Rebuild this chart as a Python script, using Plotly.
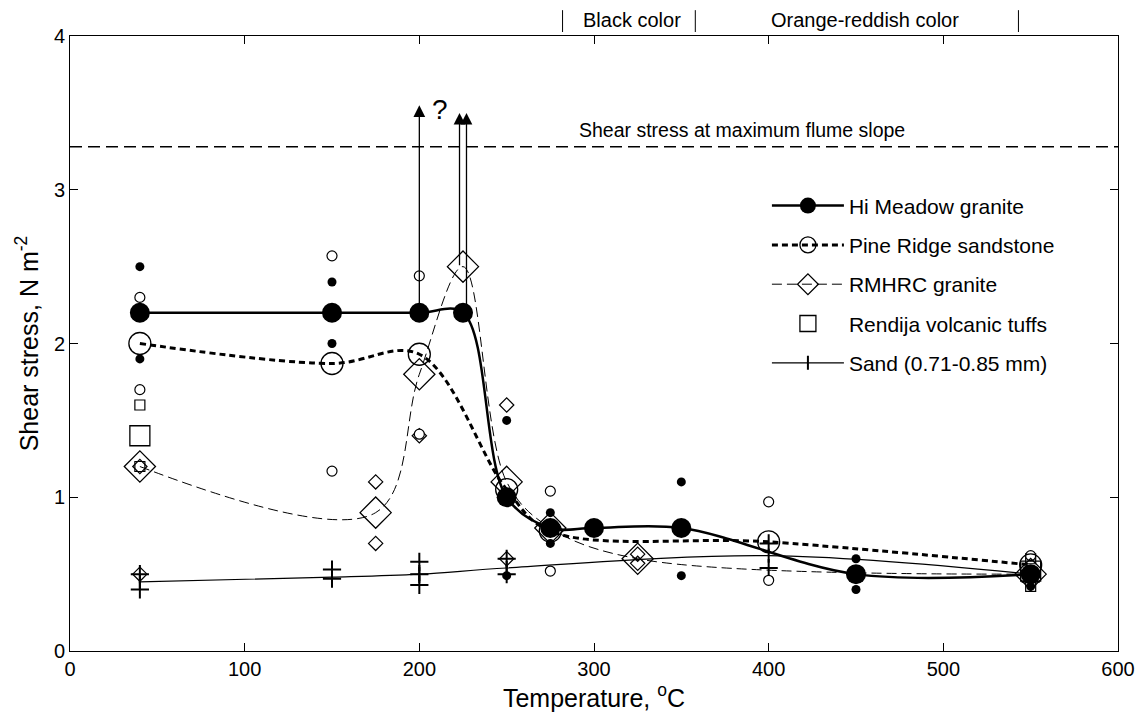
import plotly.graph_objects as go

# ---- data ----
# Hi Meadow granite
hm_x = [40, 150, 200, 225, 250, 275, 300, 350, 450, 550]
hm_y = [2.2, 2.2, 2.2, 2.2, 1.0, 0.8, 0.8, 0.8, 0.5, 0.5]
hm_rep_x = [40, 40, 150, 150, 250, 250, 275, 275, 350, 350, 450, 450, 550]
hm_rep_y = [2.5, 1.9, 2.4, 2.0, 1.5, 0.49, 0.9, 0.7, 1.1, 0.49, 0.6, 0.4, 0.42]

# Pine Ridge sandstone
pr_x = [40, 150, 200, 250, 275, 400, 550]
pr_y = [2.0, 1.87, 1.93, 1.05, 0.78, 0.71, 0.56]
pr_rep_x = [40, 40, 150, 150, 200, 200, 275, 275, 400, 400, 550]
pr_rep_y = [2.3, 1.7, 2.57, 1.17, 2.44, 1.41, 1.04, 0.52, 0.97, 0.46, 0.62]

# RMHRC granite
rm_x = [40, 175, 200, 225, 250, 275, 325, 550]
rm_y = [1.2, 0.9, 1.8, 2.5, 1.1, 0.8, 0.6, 0.5]
rm_rep_x = [40, 40, 175, 175, 200, 250, 250, 325, 325]
rm_rep_y = [1.2, 0.5, 1.1, 0.7, 1.4, 1.6, 0.6, 0.63, 0.57]

# Rendija volcanic tuffs
rv_x = [40, 550]
rv_y = [1.4, 0.52]
rv_rep_x = [40, 40, 550, 550]
rv_rep_y = [1.6, 1.2, 0.6, 0.42]

# Sand (0.71-0.85 mm)
sd_x = [40, 150, 200, 250, 400, 550]
sd_y = [0.45, 0.48, 0.5, 0.54, 0.62, 0.5]
sd_rep_x = [40, 40, 150, 150, 200, 200, 200, 250, 250, 400, 400, 550]
sd_rep_y = [0.5, 0.4, 0.53, 0.47, 0.58, 0.5, 0.43, 0.6, 0.5, 0.7, 0.54, 0.45]

flume_stress = 3.28

# off-scale arrows: (x, start y, end y)
arrows_x = [200, 223, 227]
arrows_y0 = [2.2, 2.5, 2.2]
arrows_y1 = [3.55, 3.5, 3.5]

# colour zones along the top
zone_bars = [282, 358, 543]
zone_labels = ["Black color", "Orange-reddish color"]
zone_label_x = [322, 455]

FONT = "Liberation Sans, Arial, Helvetica, sans-serif"
fig = go.Figure()

# replicate (small) markers, not in legend
fig.add_trace(go.Scatter(x=sd_rep_x, y=sd_rep_y, mode="markers", showlegend=False,
                         marker=dict(symbol="cross-thin", size=13, color="black",
                                     line=dict(width=2, color="black"))))
fig.add_trace(go.Scatter(x=rm_rep_x, y=rm_rep_y, mode="markers", showlegend=False,
                         marker=dict(symbol="diamond-open", size=11, color="black",
                                     line=dict(width=1.2))))
fig.add_trace(go.Scatter(x=rv_rep_x, y=rv_rep_y, mode="markers", showlegend=False,
                         marker=dict(symbol="square-open", size=10, color="black",
                                     line=dict(width=1.2))))
fig.add_trace(go.Scatter(x=pr_rep_x, y=pr_rep_y, mode="markers", showlegend=False,
                         marker=dict(symbol="circle", size=10, color="white",
                                     line=dict(width=1.2, color="black"))))
fig.add_trace(go.Scatter(x=hm_rep_x, y=hm_rep_y, mode="markers", showlegend=False,
                         marker=dict(symbol="circle", size=9, color="black")))

# main series
fig.add_trace(go.Scatter(x=hm_x, y=hm_y, name="Hi Meadow granite", mode="lines+markers",
                         line=dict(color="black", width=2.5, shape="spline", smoothing=1.0),
                         marker=dict(symbol="circle", size=20, color="black"),
                         legendgroup="a"))
fig.add_trace(go.Scatter(x=pr_x, y=pr_y, name="Pine Ridge sandstone", mode="lines+markers",
                         line=dict(color="black", width=3, dash="6px,4px", shape="spline", smoothing=1.0),
                         marker=dict(symbol="circle-open", size=22, color="black", line=dict(width=1.3)),
                         legendgroup="b"))
fig.add_trace(go.Scatter(x=rm_x, y=rm_y, name="RMHRC granite", mode="lines+markers",
                         line=dict(color="black", width=1, dash="10px,5px", shape="spline", smoothing=1.0),
                         marker=dict(symbol="diamond-open", size=24, color="black", line=dict(width=1.3)),
                         legendgroup="c"))
fig.add_trace(go.Scatter(x=rv_x, y=rv_y, name="Rendija volcanic tuffs", mode="markers",
                         marker=dict(symbol="square-open", size=20, color="black", line=dict(width=1.3)),
                         legendgroup="d"))
fig.add_trace(go.Scatter(x=sd_x, y=sd_y, name="Sand (0.71-0.85 mm)", mode="lines+markers",
                         line=dict(color="black", width=1.2, shape="spline", smoothing=1.0),
                         marker=dict(symbol="line-ns", size=10, color="black", line=dict(width=2, color="black")),
                         legendgroup="e"))

# flume-slope line
fig.add_hline(y=flume_stress, line=dict(color="black", width=1.5, dash="12px,6px"))
fig.add_annotation(x=385, y=flume_stress, yshift=17, text="Shear stress at maximum flume slope",
                   showarrow=False, font=dict(size=19.5, color="black", family=FONT))

# arrows
for ax_, y0, y1 in zip(arrows_x, arrows_y0, arrows_y1):
    fig.add_annotation(x=ax_, y=y1, ax=ax_, ay=y0, xref="x", yref="y", axref="x", ayref="y",
                       text="", showarrow=True, arrowhead=2, arrowsize=1.8, arrowwidth=1.3,
                       arrowcolor="black")
fig.add_annotation(x=212, y=3.52, text="?", showarrow=False,
                   font=dict(size=28, color="black", family=FONT))

# top zone markers
for bx in zone_bars:
    fig.add_shape(type="line", xref="x", yref="paper", x0=bx, x1=bx, y0=1.0065, y1=1.042,
                  line=dict(color="black", width=1))
for lx, lt in zip(zone_label_x, zone_labels):
    fig.add_annotation(x=lx, y=1.026, xref="x", yref="paper", yanchor="middle", text=lt,
                       showarrow=False, font=dict(size=20, color="black", family=FONT))

axis_common = dict(showline=True, linecolor="black", linewidth=1, mirror="ticks",
                   ticks="inside", ticklen=8, tickcolor="black", showgrid=False, zeroline=False,
                   tickfont=dict(size=20, color="black", family=FONT))
fig.update_xaxes(range=[0, 600], dtick=100, automargin="bottom",
                 title=dict(text="Temperature, <sup>o</sup>C", standoff=2,
                            font=dict(size=25, color="black", family=FONT)), **axis_common)
fig.update_yaxes(range=[0, 4], dtick=1, automargin="left",
                 title=dict(text="Shear stress, N m<sup>-2</sup>", standoff=8,
                            font=dict(size=25, color="black", family=FONT)), **axis_common)

fig.update_layout(
    width=1139, height=713,
    margin=dict(l=70, r=21, t=36, b=62),
    plot_bgcolor="white", paper_bgcolor="white",
    font=dict(family=FONT, color="black"),
    legend=dict(x=0.665, y=0.757, xanchor="left", yanchor="top", bgcolor="rgba(0,0,0,0)",
                font=dict(size=21, color="black", family=FONT), itemwidth=72,
                tracegroupgap=9, traceorder="grouped"),
)

fig.write_html("out.html", config={"displayModeBar": False},
               post_script="document.body.style.margin='0';")
